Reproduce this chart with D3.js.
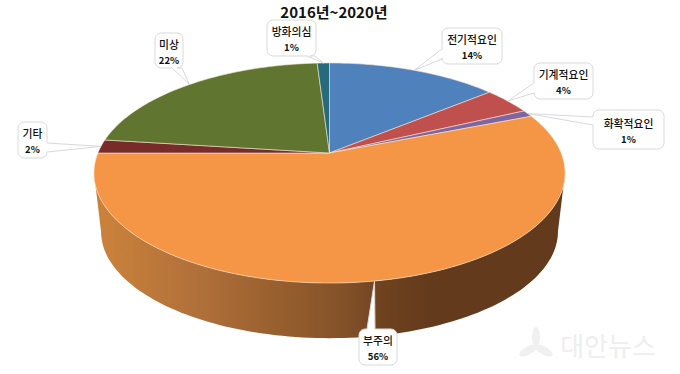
<!DOCTYPE html>
<html>
<head>
<meta charset="utf-8">
<script src="https://cdn.jsdelivr.net/npm/d3@7"></script>
<style>
body { margin: 0; background: #fff; }
text { font-family: "Noto Sans CJK KR", "Noto Sans", sans-serif; fill: #111; }
</style>
</head>
<body>
<div id="container"></div>
<script>
var title = "2016년~2020년";
var watermark = "대안뉴스";
var categories = ["전기적요인", "기계적요인", "화확적요인", "부주의", "기타", "미상", "방화의심"];
var shares = [14, 4, 1, 56, 2, 22, 1];
var sliceColors = ["#4f81bd", "#c0504d", "#8064a2", "#f49645", "#772c2a", "#60752f", "#276a7c"];

// callout boxes, same order as categories. side = where the pointer leaves the box
var callouts = [
    {x: 442, y: 28, w: 60, h: 36, side: "left", b0: 49, b1: 59},
    {x: 534, y: 63, w: 59, h: 36, side: "left", b0: 83, b1: 93},
    {x: 593, y: 110, w: 71, h: 39, side: "left", b0: 117, b1: 125},
    {x: 359, y: 329, w: 38, h: 36, side: "top", b0: 367, b1: 375, tipAt: 47.45},
    {x: 18, y: 122, w: 29, h: 36, side: "right", b0: 143, b1: 152},
    {x: 155, y: 33, w: 28, h: 35, side: "bottom", b0: 172, b1: 182},
    {x: 267, y: 20, w: 49, h: 36, side: "bottom", b0: 307, b1: 315}
];

var width = 680, height = 374;
var cx = 329.5, apexY = 153;
var halfW = 231.6, halfH = 106.4, tilt = 0.1818; // perspective of the disc
var depthY = 59, bottomScale = 0.97;

var svg = d3.select("#container").append("svg")
    .attr("width", width)
    .attr("height", height)
    .style("display", "block");

// unit circle -> screen, lower rim is a bit smaller and further down
function project(a, scale, dy){
    var u = Math.sin(a), v = -Math.cos(a);
    var w = 1 - tilt * v;
    return [cx + scale * halfW * u / w, apexY + dy + scale * halfH * v / w];
}

var toAngle = d3.scaleLinear().domain([0, d3.sum(shares)]).range([0, 2 * Math.PI]);
var pie = d3.pie().sort(null).value(d => d)(shares);
var line = d3.line();

function arcPoints(a0, a1, scale, dy){
    var n = Math.max(2, Math.ceil(Math.abs(a1 - a0) * 40));
    return d3.range(n + 1).map(i => project(a0 + (a1 - a0) * i / n, scale, dy));
}

// faint watermark, sits under everything
var mark = svg.append("g").attr("transform", "translate(536,346)");
mark.selectAll("ellipse")
    .data([0, 120, 240])
    .enter().append("ellipse")
    .attr("cy", -9)
    .attr("rx", 4)
    .attr("ry", 10)
    .attr("transform", d => "rotate(" + d + ")")
    .attr("fill", "#f0f0f0");
svg.append("text")
    .attr("x", 608)
    .attr("y", 356)
    .attr("text-anchor", "middle")
    .attr("font-size", 26)
    .style("fill", "#eeeeee")
    .text(watermark);

// side wall, only the front half can be seen
var grad = svg.append("defs").append("linearGradient")
    .attr("id", "wall")
    .attr("gradientUnits", "userSpaceOnUse")
    .attr("x1", cx - halfW).attr("x2", cx + halfW)
    .attr("y1", 0).attr("y2", 0);
grad.selectAll("stop")
    .data([[0, "#cb823b"], [0.22, "#b0703a"], [0.42, "#935c2c"], [0.52, "#85532a"], [0.62, "#6e421f"], [0.72, "#633a1c"], [1, "#633a1c"]])
    .enter().append("stop")
    .attr("offset", d => d[0])
    .attr("stop-color", d => d[1]);

var frontR = Math.acos(-tilt), frontL = 2 * Math.PI - frontR;
var wallPts = arcPoints(frontR, frontL, 1, 0)
    .concat(arcPoints(frontL, frontR, bottomScale, depthY));
svg.append("path")
    .attr("d", line(wallPts) + "Z")
    .attr("fill", "url(#wall)");

// top face
svg.selectAll(".slice")
    .data(pie)
    .enter().append("path")
    .attr("class", "slice")
    .attr("d", d => line([[cx, apexY]].concat(arcPoints(d.startAngle, d.endAngle, 1, 0))) + "Z")
    .attr("fill", (d, i) => sliceColors[i])
    .attr("stroke", "#f6e3cf")
    .attr("stroke-opacity", 0.75)
    .attr("stroke-width", 0.8)
    .attr("stroke-linejoin", "round");

// rounded box with a pointer to the rim
function calloutPath(c, tip){
    var r = 6, x0 = c.x, x1 = c.x + c.w, y0 = c.y, y1 = c.y + c.h;
    var p = d3.path();
    p.moveTo(x0 + r, y0);
    if (c.side == "top"){ p.lineTo(c.b0, y0); p.lineTo(tip[0], tip[1]); p.lineTo(c.b1, y0); }
    p.lineTo(x1 - r, y0);
    p.arcTo(x1, y0, x1, y0 + r, r);
    if (c.side == "right"){ p.lineTo(x1, c.b0); p.lineTo(tip[0], tip[1]); p.lineTo(x1, c.b1); }
    p.lineTo(x1, y1 - r);
    p.arcTo(x1, y1, x1 - r, y1, r);
    if (c.side == "bottom"){ p.lineTo(c.b1, y1); p.lineTo(tip[0], tip[1]); p.lineTo(c.b0, y1); }
    p.lineTo(x0 + r, y1);
    p.arcTo(x0, y1, x0, y1 - r, r);
    if (c.side == "left"){ p.lineTo(x0, c.b1); p.lineTo(tip[0], tip[1]); p.lineTo(x0, c.b0); }
    p.lineTo(x0, y0 + r);
    p.arcTo(x0, y0, x0 + r, y0, r);
    p.closePath();
    return p.toString();
}

var labels = svg.selectAll(".callout")
    .data(pie)
    .enter().append("g")
    .attr("class", "callout");

labels.append("path")
    .attr("d", function(d, i){
        var c = callouts[i];
        var mid = c.tipAt !== undefined ? toAngle(c.tipAt) : (d.startAngle + d.endAngle) / 2;
        return calloutPath(c, project(mid, 1, 0));
    })
    .attr("fill", "#fff")
    .attr("stroke", "#d9d9d9")
    .attr("stroke-width", 1);

labels.append("text")
    .attr("x", (d, i) => callouts[i].x + callouts[i].w / 2)
    .attr("y", (d, i) => callouts[i].y + callouts[i].h / 2 - 2)
    .attr("text-anchor", "middle")
    .attr("font-size", 10.8)
    .attr("font-weight", 500)
    .text((d, i) => categories[i]);

labels.append("text")
    .attr("x", (d, i) => callouts[i].x + callouts[i].w / 2)
    .attr("y", (d, i) => callouts[i].y + callouts[i].h / 2 + 13)
    .attr("text-anchor", "middle")
    .attr("font-size", 9.5)
    .attr("font-weight", 700)
    .text((d, i) => shares[i] + "%");

svg.append("text")
    .attr("x", 334)
    .attr("y", 18)
    .attr("text-anchor", "middle")
    .attr("font-size", 15)
    .attr("font-weight", 700)
    .text(title);
</script>
</body>
</html>
